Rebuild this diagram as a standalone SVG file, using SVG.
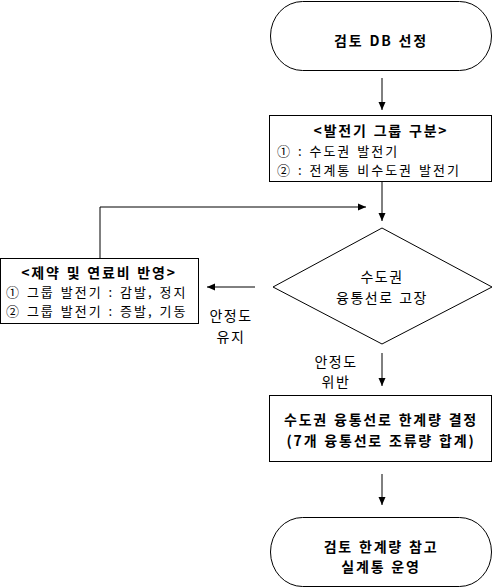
<svg xmlns="http://www.w3.org/2000/svg" width="495" height="588" viewBox="0 0 495 588">
<style>
.s{fill:#fff;stroke:#000;stroke-width:1}
.t{font-family:"Noto Sans CJK KR","Noto Sans",sans-serif;font-size:14px;letter-spacing:1.5px;word-spacing:1px;fill:#000}
.b{font-weight:bold;letter-spacing:1.8px}
.n{font-size:13px;letter-spacing:2px;word-spacing:1px}
.c{text-anchor:middle}
.l{fill:none;stroke:#000;stroke-width:1}
</style>
<defs>
<marker id="a" markerWidth="8" markerHeight="8" refX="8" refY="4" orient="auto" markerUnits="userSpaceOnUse">
<path d="M0,0.5 L8,4 L0,7.5 Z" fill="#000"/>
</marker>
</defs>
<rect width="495" height="588" fill="#fff"/>
<g id="connectors">
<line class="l" x1="382" y1="78" x2="382" y2="110" marker-end="url(#a)"/>
<line class="l" x1="382" y1="181" x2="382" y2="221" marker-end="url(#a)"/>
<polyline class="l" points="100,258 100,207 366,207" marker-end="url(#a)"/>
<line class="l" x1="255" y1="287" x2="207" y2="287" marker-end="url(#a)"/>
<line class="l" x1="382" y1="353" x2="382" y2="386" marker-end="url(#a)"/>
<line class="l" x1="382" y1="474" x2="382" y2="505" marker-end="url(#a)"/>
</g>
<g id="start">
<rect class="s" x="270.5" y="1.5" width="221" height="69" rx="32" ry="34.5"/>
<text class="t b c" x="381" y="46">검토 DB 선정</text>
</g>
<g id="group">
<rect class="s" x="269.5" y="115.5" width="222" height="66"/>
<text class="t b c" x="381" y="136">&lt;발전기 그룹 구분&gt;</text>
<text class="t n"><tspan x="277" y="156">① : 수도권 발전기</tspan><tspan x="277" y="175">② : 전계통 비수도권 발전기</tspan></text>
</g>
<g id="decision">
<polygon class="s" points="382,228 492,287 382,344 273,287"/>
<text class="t c"><tspan x="382" y="282">수도권</tspan><tspan x="382" y="303">융통선로 고장</tspan></text>
</g>
<g id="constraint">
<rect class="s" x="0.5" y="258.5" width="198" height="65"/>
<text class="t b c" x="99" y="278">&lt;제약 및 연료비 반영&gt;</text>
<text class="t n"><tspan x="6" y="297">① 그룹 발전기 : 감발, 정지</tspan><tspan x="6" y="316">② 그룹 발전기 : 증발, 기동</tspan></text>
</g>
<g id="label-keep">
<text class="t c"><tspan x="231" y="321">안정도</tspan><tspan x="231" y="342">유지</tspan></text>
</g>
<g id="label-violate">
<text class="t c"><tspan x="336" y="367">안정도</tspan><tspan x="336" y="387">위반</tspan></text>
</g>
<g id="limit">
<rect class="s" x="269.5" y="395.5" width="222" height="66"/>
<text class="t b c"><tspan x="381" y="425">수도권 융통선로 한계량 결정</tspan><tspan x="381" y="446">(7개 융통선로 조류량 합계)</tspan></text>
</g>
<g id="end">
<rect class="s" x="270.5" y="517.5" width="221" height="69" rx="32" ry="34.5"/>
<text class="t b c"><tspan x="381" y="552">검토 한계량 참고</tspan><tspan x="381" y="572">실계통 운영</tspan></text>
</g>
</svg>
